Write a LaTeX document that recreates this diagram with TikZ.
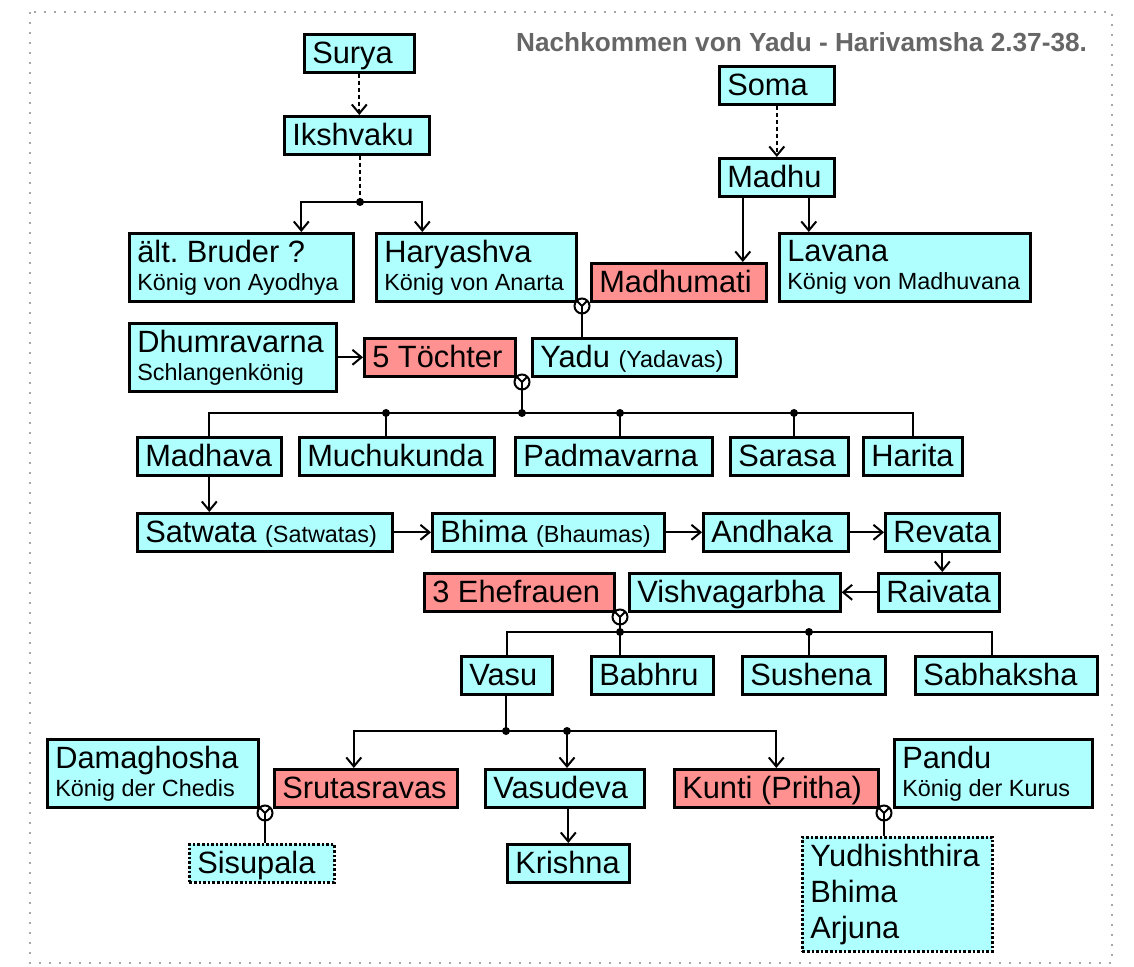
\documentclass[tikz,border=0pt]{standalone}
\usepackage{fontspec}
\setmainfont{Liberation Sans}
\usetikzlibrary{arrows.meta}
\definecolor{boxcyan}{RGB}{175,255,255}
\definecolor{boxred}{RGB}{255,145,145}
\definecolor{titlegray}{RGB}{102,102,102}
\newcommand{\klein}{\fontsize{11.7}{14}\selectfont}

\begin{document}
\begin{tikzpicture}[x=0.5pt, y=-0.5pt, line width=1pt,
		>={Straight Barb[length=4.5pt,width=7.5pt]},
		person/.style={draw, line width=1.3pt, fill=boxcyan, anchor=north west, align=flush left, inner xsep=4pt, inner ysep=2pt, font=\fontsize{15.4}{18}\selectfont},
		einzeilig/.style={text height=12.8pt, text depth=2.2pt},
		zweizeilig/.style={minimum height=34pt},
		frau/.style={fill=boxred},
		vermutet/.style={densely dotted},
		ahnen/.style={dash pattern=on 2pt off 1.5pt},
		punkt/.style={circle, fill, inner sep=0pt, minimum size=4pt},
		ehe/.style={circle, draw, fill=white, inner sep=0pt, minimum size=7.5pt,
			path picture={\draw (path picture bounding box.center) -- (path picture bounding box.north west)
				(path picture bounding box.center) -- (path picture bounding box.north east);}},
		rahmen/.style={draw=black!35, line width=1.2pt, dash pattern=on 1.2pt off 3.8pt}]
				\useasboundingbox (0,0) rectangle (1134,967);
				\draw[rahmen] (30,12) rectangle (1112,963);
				\node[anchor=base east, inner sep=0pt, text=titlegray, font=\fontsize{13.1}{15}\selectfont\bfseries] (titel) at (1088,52) {Nachkommen von Yadu - Harivamsha 2.37-38.};
				\node[person, einzeilig, text width=47pt] (surya) at (303,33) {Surya};
				\node[person, einzeilig, text width=64.5pt] (ikshvaku) at (283,115) {Ikshvaku};
				\node[person, einzeilig, text width=49.5pt] (soma) at (718,65) {Soma};
				\node[person, einzeilig, text width=49.5pt] (madhu) at (718,157) {Madhu};
				\node[person, zweizeilig, text width=104pt] (bruder) at (128,232) {ält.\ Bruder ?\\[-4pt]\klein König von Ayodhya};
				\node[person, zweizeilig, text width=92pt] (haryashva) at (375,232) {Haryashva\\[-4pt]\klein König von Anarta};
				\node[person, einzeilig, frau, text width=79.5pt] (madhumati) at (590,262) {Madhumati};
				\node[person, zweizeilig, text width=117.5pt] (lavana) at (778,232) {Lavana\\[-4pt]\klein König von Madhuvana};
				\node[person, zweizeilig, text width=95.5pt] (dhumra) at (128,322) {Dhumravarna\\[-4pt]\klein Schlangenkönig};
				\node[person, einzeilig, frau, text width=67.5pt] (toechter) at (363,337) {5 Töchter};
				\node[person, einzeilig, text width=94pt] (yadu) at (531,337) {Yadu {\klein (Yadavas)}};
				\node[person, einzeilig, text width=64pt] (madhava) at (136,436) {Madhava};
				\node[person, einzeilig, text width=89.5pt] (muchukunda) at (298,436) {Muchukunda};
				\node[person, einzeilig, text width=90.5pt] (padmavarna) at (514,436) {Padmavarna};
				\node[person, einzeilig, text width=51pt] (sarasa) at (729,436) {Sarasa};
				\node[person, einzeilig, text width=41.5pt] (harita) at (862,436) {Harita};
				\node[person, einzeilig, text width=119.5pt] (satwata) at (136,512) {Satwata {\klein (Satwatas)}};
				\node[person, einzeilig, text width=108pt] (bhima) at (431,512) {Bhima {\klein (Bhaumas)}};
				\node[person, einzeilig, text width=64.5pt] (andhaka) at (702,512) {Andhaka};
				\node[person, einzeilig, text width=49pt] (revata) at (884,512) {Revata};
				\node[person, einzeilig, frau, text width=87pt] (ehefrauen) at (423,572) {3 Ehefrauen};
				\node[person, einzeilig, text width=97.5pt] (vishva) at (628,572) {Vishvagarbha};
				\node[person, einzeilig, text width=52.5pt] (raivata) at (877,572) {Raivata};
				\node[person, einzeilig, text width=37.5pt] (vasu) at (460,655) {Vasu};
				\node[person, einzeilig, text width=53pt] (babhru) at (590,655) {Babhru};
				\node[person, einzeilig, text width=63.5pt] (sushena) at (741,655) {Sushena};
				\node[person, einzeilig, text width=83pt] (sabhaksha) at (914,655) {Sabhaksha};
				\node[person, zweizeilig, text width=97.5pt] (damaghosha) at (46,738) {Damaghosha\\[-4pt]\klein König der Chedis};
				\node[person, einzeilig, frau, text width=83.5pt] (sruta) at (273,768) {Srutasravas};
				\node[person, einzeilig, text width=71.5pt] (vasudeva) at (484,768) {Vasudeva};
				\node[person, einzeilig, frau, text width=94pt] (kunti) at (673,768) {Kunti (Pritha)};
				\node[person, zweizeilig, text width=91pt] (pandu) at (893,738) {Pandu\\[-4pt]\klein König der Kurus};
				\node[person, einzeilig, vermutet, text width=64.5pt] (sisupala) at (188,843) {Sisupala};
				\node[person, einzeilig, text width=53pt] (krishna) at (506,843) {Krishna};
				\node[person, vermutet, minimum height=57pt, text width=87pt] (pandavas) at (801,836) {Yudhishthira\\Bhima\\Arjuna};
				\node[ehe] (ehe1) at (582,306) {};
				\node[ehe] (ehe2) at (522,382) {};
				\node[ehe] (ehe3) at (620,617) {};
				\node[ehe] (ehe4) at (265,813) {};
				\node[ehe] (ehe5) at (884,813) {};
				\node[punkt] (j1) at (360,202) {};
				\node[punkt] (j2) at (522,413) {};
				\node[punkt] (j2a) at (386,413) {};
				\node[punkt] (j2b) at (620,413) {};
				\node[punkt] (j2c) at (794,413) {};
				\node[punkt] (j3) at (620,632) {};
				\node[punkt] (j3a) at (809,632) {};
				\node[punkt] (j4) at (506,731) {};
				\node[punkt] (j4a) at (567,731) {};
				\draw[->, ahnen] (surya.south) -- (surya.south |- ikshvaku.north);
				\draw[ahnen] (ikshvaku.south -| j1) -- (j1.center);
				\draw[->] (j1.center) -| ([xshift=30pt]bruder.north);
				\draw[->] (j1.center) -| ([xshift=-27pt]haryashva.north);
				\draw[->, ahnen] (soma.south) -- (soma.south |- madhu.north);
				\draw[->] ([xshift=-17pt]madhu.south) -- ([xshift=-17pt]madhu.south |- madhumati.north);
				\draw[->] ([xshift=16pt]madhu.south) -- ([xshift=16pt]madhu.south |- lavana.north);
				\draw (ehe1.center) -- (ehe1.center |- yadu.north);
				\draw[->] (dhumra) -- (toechter);
				\draw (ehe2.center) -- (j2.center);
				\draw (madhava.north) |- (j2.center) -| (harita.north);
				\draw (j2a.center) -- (j2a.center |- muchukunda.north);
				\draw (j2b.center) -- (j2b.center |- padmavarna.north);
				\draw (j2c.center) -- (j2c.center |- sarasa.north);
				\draw[->] (madhava) -- (madhava |- satwata.north);
				\draw[->] (satwata) -- (bhima);
				\draw[->] (bhima) -- (andhaka);
				\draw[->] (andhaka) -- (revata);
				\draw[->] (revata) -- (revata |- raivata.north);
				\draw[->] (raivata) -- (vishva);
				\draw (ehe3.center) -- (j3.center);
				\draw (vasu.north) |- (j3.center) -| ([xshift=-7pt]sabhaksha.north);
				\draw (j3.center) -- (j3.center |- babhru.north);
				\draw (j3a.center) -- (j3a.center |- sushena.north);
				\draw (vasu.south -| j4) -- (j4.center) -- (j4a.center);
				\draw[->] (j4.center) -| ([xshift=-6pt]sruta.north);
				\draw[->] (j4a.center) -| (kunti.north);
				\draw[->] (j4a.center) -- (j4a.center |- vasudeva.north);
				\draw[->] (krishna.north |- vasudeva.south) -- (krishna.north);
				\draw (ehe4.center) -- (ehe4.center |- sisupala.north);
				\draw (ehe5.center) -- (ehe5.center |- pandavas.north);
			\end{tikzpicture}
\end{document}
